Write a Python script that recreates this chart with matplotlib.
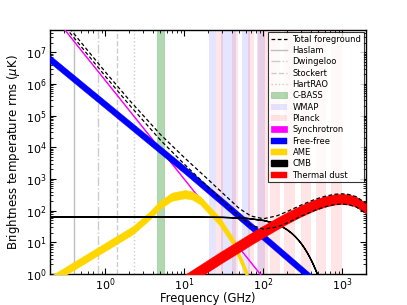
import matplotlib
matplotlib.use('Agg')
import matplotlib.pyplot as plt

# survey frequencies (GHz)
haslam_freq = 0.408
dwingeloo_freq = 0.82
stockert_freq = 1.42
hartrao_freq = 2.3
cbass_band = (4.5, 5.5)
wmap_bands = [(20.3, 25.5), (29.5, 36.5), (36.5, 45.0), (54.0, 68.0), (84.0, 104.0)]
planck_bands = [(25.6, 31.2), (39.7, 48.5), (63.4, 77.4), (85.0, 115.0), (121.0, 165.0),
                (184.0, 250.0), (300.0, 406.0), (463.0, 627.0), (728.0, 986.0)]

# components (brightness temperature, uK)
sync_freq = [0.2, 100]
sync_lo = [1.85e8, 0.72]
sync_hi = [2.0e8, 0.78]

ff_freq = [0.2, 10, 100, 2000]
ff_lo = [4.57e6, 1502, 11.4, 0.0182]
ff_hi = [7.96e6, 2616, 19.8, 0.0317]

ame_freq = [0.2, 2.26, 3.69, 4.9, 7.0, 10.2, 12.5, 15.8, 20, 28.4, 41.5, 61.8, 80]
ame_lo = [0.47, 18.1, 53, 112, 204, 245, 224, 159, 85, 33.1, 7.8, 0.74, 0.074]
ame_hi = [0.85, 33.1, 97, 204, 371, 447, 408, 289, 155, 60, 14.2, 1.35, 0.135]

cmb_freq = [0.2, 10, 30, 60, 100, 125, 150, 175, 200, 225, 250, 275, 300, 325, 350,
            375, 400, 425, 450, 475, 500, 525, 550, 575]
cmb_t = [65, 64.8, 63.5, 59.3, 50.5, 44.1, 37.5, 31.1, 25.3, 20.2, 15.8, 12.2, 9.3, 7.0, 5.2,
         3.85, 2.82, 2.05, 1.48, 1.06, 0.756, 0.537, 0.38, 0.267]

dust_freq = [10, 20, 30, 50, 70, 100, 150, 200, 300, 450, 600, 800, 1000, 1200, 1500, 2000]
dust_lo = [0.39, 1.17, 2.24, 4.9, 8.3, 14.1, 25.5, 38.2, 64.9, 102, 131, 155, 161, 154, 131, 81]
dust_hi = [0.93, 2.82, 5.38, 11.8, 19.8, 33.7, 60, 88.4, 146.5, 225, 282, 328, 339, 325, 276, 171]

total_freq = [0.2, 0.5, 1, 2, 5, 10, 20, 30, 50, 70, 100, 150, 200, 300, 450, 600, 800,
              1000, 1200, 1500, 2000]
total_lo = [2.45e8, 1.46e7, 1.76e6, 2.23e5, 1.68e4, 2930, 562, 213, 63.9, 35.2, 26.1, 30.4,
            40.7, 66.0, 102, 131, 155, 161, 154, 131, 81]
total_hi = [3.27e8, 1.96e7, 2.40e6, 3.15e5, 2.52e4, 4750, 966, 375, 115.5, 67.5, 55.2, 68.8,
            93, 148.4, 226, 282, 328, 339, 325, 276, 171]


def setup_style():
    plt.rcParams['font.family'] = ['DejaVu Sans']
    plt.rcParams['xtick.direction'] = 'in'
    plt.rcParams['ytick.direction'] = 'in'
    plt.rcParams['xtick.top'] = True
    plt.rcParams['ytick.right'] = True
    plt.rcParams['xtick.major.size'] = 4
    plt.rcParams['ytick.major.size'] = 4
    plt.rcParams['xtick.minor.size'] = 2
    plt.rcParams['ytick.minor.size'] = 2
    plt.rcParams['xtick.major.pad'] = 1.5
    plt.rcParams['ytick.major.pad'] = 2.5
    plt.rcParams['axes.linewidth'] = 1.0


def plot_data():
    fig = plt.figure(figsize=(4.07, 3.05), dpi=100)
    ax = fig.add_axes([50 / 407, 31 / 305, 316 / 407, 244 / 305])

    ax.plot(total_freq, total_lo, 'k--', lw=0.9, dashes=(3, 2), zorder=6, label='Total foreground')
    ax.plot(total_freq, total_hi, 'k--', lw=0.9, dashes=(3, 2), zorder=6)

    ax.axvline(haslam_freq, color='0.75', lw=1, label='Haslam')
    ax.axvline(dwingeloo_freq, color='0.8', lw=1, ls='-.', label='Dwingeloo')
    ax.axvline(stockert_freq, color='0.8', lw=1, ls='--', label='Stockert')
    ax.axvline(hartrao_freq, color='0.8', lw=1, ls=':', label='HartRAO')

    ax.axvspan(cbass_band[0], cbass_band[1], facecolor='green', edgecolor='green',
               alpha=0.3, lw=0.5, label='C-BASS')
    for i, (lo, hi) in enumerate(wmap_bands):
        ax.axvspan(lo, hi, facecolor='blue', edgecolor='none', alpha=0.1,
                   label='WMAP' if i == 0 else None)
    for i, (lo, hi) in enumerate(planck_bands):
        ax.axvspan(lo, hi, facecolor='red', edgecolor='none', alpha=0.1,
                   label='Planck' if i == 0 else None)

    ax.fill_between(sync_freq, sync_lo, sync_hi, facecolor='magenta', edgecolor='magenta',
                    lw=0.5, zorder=3, label='Synchrotron')
    ax.fill_between(ff_freq, ff_lo, ff_hi, facecolor='blue', edgecolor='blue',
                    lw=0.3, zorder=3, label='Free-free')
    ax.fill_between(ame_freq, ame_lo, ame_hi, facecolor='gold', edgecolor='gold',
                    lw=0.3, zorder=3, label='AME')
    ax.fill_between(cmb_freq, cmb_t, cmb_t, facecolor='black', edgecolor='black',
                    lw=1, zorder=3, label='CMB')
    ax.fill_between(dust_freq, dust_lo, dust_hi, facecolor='red', edgecolor='red',
                    lw=0.3, zorder=3, label='Thermal dust')

    ax.set_xscale('log')
    ax.set_yscale('log')
    ax.set_xlim(0.2, 2000)
    ax.set_ylim(1, 5e7)
    ax.tick_params(labelsize=8)
    ax.set_xlabel('Frequency (GHz)', fontsize=8.3)
    ax.set_ylabel(r'Brightness temperature rms ($\mu$K)', fontsize=8.5)
    ax.xaxis.set_label_coords(0.5, -0.074)
    ax.yaxis.set_label_coords(-0.09, 0.5)

    leg = ax.legend(loc='upper right', fontsize=6, frameon=True, fancybox=False,
                    borderaxespad=0.25, handlelength=1.9, labelspacing=0.28,
                    handletextpad=0.7, borderpad=0.3)
    leg.get_frame().set_edgecolor('black')
    leg.get_frame().set_linewidth(0.8)

    fig.savefig('out.png', dpi=100, facecolor='white')


if __name__ == "__main__":
    setup_style()
    plot_data()
